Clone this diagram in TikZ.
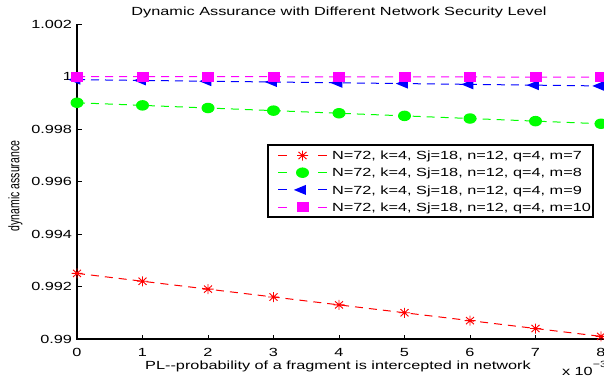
\documentclass[tikz,border=0pt]{standalone}
\usepackage{fontspec}
\setmainfont{Liberation Sans}
\usepackage{graphicx}
\usetikzlibrary{shapes.geometric}
\definecolor{mred}{rgb}{1,0,0}
\definecolor{mgreen}{rgb}{0,1,0}
\definecolor{mblue}{rgb}{0,0,1}
\definecolor{mmag}{rgb}{1,0,1}
\newcommand\hsx[1]{\scalebox{1.38}[1]{#1}}
\begin{document}
\begin{tikzpicture}[x=1pt,y=-1pt,
  every node/.style={inner sep=0pt, outer sep=0pt},
  lbl/.style={font=\fontsize{11.8}{13}\selectfont},
  axisline/.style={black, line width=1.1pt},
  dashline/.style={line width=1pt, dash pattern=on 8pt off 6pt},
  gm/.style={ellipse, fill=mgreen, minimum width=13pt, minimum height=10.5pt},
  mm/.style={rectangle, fill=mmag, minimum width=12pt, minimum height=10pt},
  bm/.style={isosceles triangle, fill=mblue, shape border rotate=180, isosceles triangle stretches, minimum width=10pt, minimum height=12pt},
  astm/.pic={\draw[mred, line width=0.9pt] (-5.5,0)--(5.5,0) (0,-5)--(0,5) (-4,-3.6)--(4,3.6) (-4,3.6)--(4,-3.6);}
]
\useasboundingbox (0,0) rectangle (604,383);
\fill[white] (0,0) rectangle (604,383);

% axes
\coordinate (otop) at (77,24);
\coordinate (orig) at (77,339);
\coordinate (xend) at (604,339);
\draw[axisline] (otop) -- (orig) -- (xend);

% y ticks and labels
\foreach \v/\t in {0/0.99, 2/0.992, 4/0.994, 6/0.996, 8/0.998, 10/1, 12/1.002}{
  \coordinate (yk\v) at (77,{339-26.25*\v});
  \draw[black, line width=0.8pt] (yk\v) -- ++(4.5,0);
  \node[lbl, anchor=east] (yt\v) at (72,{339-26.25*\v}) {\hsx{\t}};
}
% x ticks and labels
\foreach \i in {0,...,8}{
  \coordinate (xk\i) at ({77+65.5*\i},339);
  \draw[black, line width=0.8pt] (xk\i) -- ++(0,-4.5);
  \node[lbl, anchor=base] (xt\i) at ({77+65.5*\i},356.5) {\hsx{\i}};
}

% titles
\node[lbl, anchor=base] (title) at (339,15) {\hsx{Dynamic Assurance with Different Network Security Level}};
\node[lbl, anchor=base] (xlab) at (338,369) {\hsx{PL-{}-probability of a fragment is intercepted in network}};
\node[font=\fontsize{10.5}{12}\selectfont, rotate=90] (ylab) at (15.5,186) {\scalebox{1}[1.45]{dynamic assurance}};
\node[lbl, anchor=base west] (expo) at (562,375) {\hsx{x 10\raisebox{0.6em}{\fontsize{9}{10}\selectfont \char"2212 3}}};

% data coordinates
\foreach \i in {0,...,8}{
  \coordinate (r\i) at ({77+65.5*\i},{339-26.25*(2.5-0.3*\i)});
  \coordinate (g\i) at ({77+65.5*\i},{339-26.25*(9.0-0.1*\i)});
  \coordinate (b\i) at ({77+65.5*\i},{339-26.25*(9.88-0.03*\i)});
  \coordinate (m\i) at ({77+65.5*\i},{339-26.25*(10-0.003*\i)});
}

% m=7
\draw[mred, dashline] (r0) \foreach \i in {1,...,8}{ -- (r\i)};
\foreach \i in {0,...,8}{ \pic (R\i) at (r\i) {astm}; }
% m=8
\draw[mgreen, dashline] (g0) \foreach \i in {1,...,8}{ -- (g\i)};
\foreach \i in {0,...,8}{ \node[gm] (G\i) at (g\i) {}; }
% m=9
\draw[mblue, dashline] (b0) \foreach \i in {1,...,8}{ -- (b\i)};
\foreach \i in {0,...,8}{ \node[bm] (B\i) at (b\i) {}; }
% m=10
\draw[mmag, dashline] (m0) \foreach \i in {1,...,8}{ -- (m\i)};
\foreach \i in {0,...,8}{ \node[mm] (M\i) at (m\i) {}; }

% legend
\node[draw=black, line width=1.1pt, fill=white, minimum width=325pt, minimum height=72pt, anchor=north west] (leg) at (268,145) {};
\foreach \k/\c/\lab in {0/mred/7, 1/mgreen/8, 2/mblue/9, 3/mmag/10}{
  \coordinate (la\k) at (278,{155.5+17.2*\k});
  \coordinate (lb\k) at (287,{155.5+17.2*\k});
  \coordinate (lc\k) at (318,{155.5+17.2*\k});
  \coordinate (ld\k) at (327,{155.5+17.2*\k});
  \coordinate (lm\k) at (302.5,{155.5+17.2*\k});
  \draw[\c, line width=1pt] (la\k) -- (lb\k) (lc\k) -- (ld\k);
  \node[lbl, anchor=base west] (lt\k) at (332,{155.5+17.2*\k+4.2}) {\hsx{N=72, k=4, Sj=18, n=12, q=4, m=\lab}};
}
\pic (LR) at (lm0) {astm};
\node[gm] (LG) at (lm1) {};
\node[bm] (LB) at (lm2) {};
\node[mm] (LM) at (lm3) {};
\end{tikzpicture}
\end{document}
